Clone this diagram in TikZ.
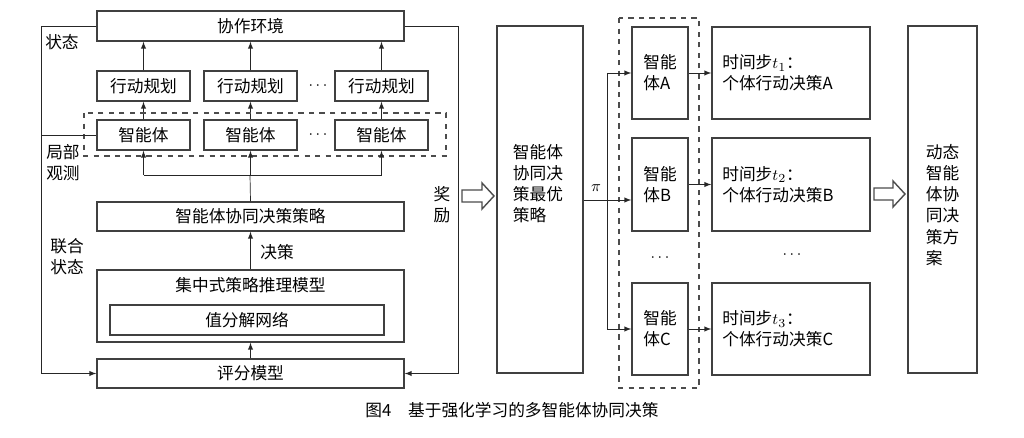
\documentclass[tikz,border=0pt]{standalone}
\usepackage{fontspec}
\setmainfont{Liberation Serif}
\newfontfamily\cjk{Noto Sans CJK SC}
\usetikzlibrary{positioning}
\tikzset{
  box/.style={draw=black!75,thick,inner sep=0pt,font=\cjk\fontsize{9.5}{12}\selectfont},
  lbl/.style={font=\cjk\fontsize{9.5}{12}\selectfont,align=left,inner sep=0pt},
  arr/.style={-latex,black!85},
  ln/.style={black!85},
  dsh/.style={draw=black!70,dashed,thick}
}
\newcommand{\bx}[5]{\node[box,minimum width=#3*0.02cm,minimum height=#4*0.02cm] (#1) at (#2) {#5};}
\begin{document}
\begin{tikzpicture}[x=0.02cm,y=-0.02cm]
\useasboundingbox (0,0) rectangle (1024,438);
% left part
\bx{env}{250.5,26}{307}{30}{协作环境}
\foreach \n/\x in {1/143.5,2/250.5,3/381.5}{
  \bx{plan\n}{\x,86}{93}{30}{行动规划}
  \bx{ag\n}{\x,135}{93}{30}{智能体}
  \draw[arr] (ag\n) -- (plan\n);
  \draw[arr] (plan\n) -- (plan\n|-env.south);
}
\node[lbl] (dp) at (318,86) {$\cdots$};
\node[lbl] (da) at (318,135) {$\cdots$};
\draw[dsh] (84,113) rectangle (446,156);
\bx{strat}{250.5,216.5}{307}{29}{智能体协同决策策略}
\node[box,minimum width=307*0.02cm,minimum height=72*0.02cm] (cent) at (250.5,306) {};
\node[lbl] (centt) at (250.5,285) {集中式策略推理模型};
\bx{vdn}{247,320}{274}{30}{值分解网络}
\bx{score}{250.5,373.5}{307}{29}{评分模型}
\coordinate (br) at (250,175);
\draw[ln] (strat.north) -- (br);
\draw[ln] (ag1|-br) -- (ag3|-br);
\foreach \n in {1,2,3}{\draw[arr] (ag\n|-br) -- (ag\n);}
\draw[arr] (cent.north) -- (strat);
\node[lbl] (jc) at (277,252) {决策};
\draw[arr] (score) -- (cent);
% feedback loops
\draw[arr] (env.west) -- (41,26) -- (41,373.5) -- (score.west);
\draw[ln] (41,135) -- (ag1.west);
\draw[arr] (env.east) -- (458,26) -- (458,373.5) -- (score.east);
\node[lbl] (zt) at (62,42) {状态};
\node[lbl] (jb) at (63,163) {局部\\观测};
\node[lbl] (lh) at (67,257) {联合\\状态};
\node[lbl] (jl) at (442,205) {奖\\励};
% hollow arrows
\draw[thick,black!70] (462,190)--(482,190)--(482,183)--(494,196)--(482,209)--(482,202)--(462,202)--cycle;
\draw[thick,black!70] (874,188)--(893,188)--(893,181)--(905,194)--(893,207)--(893,200)--(874,200)--cycle;
% right part
\node[box,minimum width=86*0.02cm,minimum height=347*0.02cm] (opt) at (540,199.5) {};
\node[lbl] (optt) at (538,184) {智能体\\协同决\\策最优\\策略};
\draw[dsh] (619,18) rectangle (699,388);
\foreach \n/\y/\h/\L/\t in {A/73/92/A/1,B/184.5/93/B/2,C/329/92/C/3}{
  \node[box,minimum width=56*0.02cm,minimum height=\h*0.02cm] (ag\n) at (660,\y) {};
  \node[lbl] at (660,\y) {智能\\体\L};
  \node[box,minimum width=158*0.02cm,minimum height=\h*0.02cm] (ts\n) at (791,\y) {};
  \node[lbl,anchor=west] at (722,\y) {时间步$t_{\t}$：\\个体行动决策\L};
  \draw[arr] (ag\n) -- (ts\n);
}
\coordinate (pi) at (607,200);
\draw[ln] (opt.east|-pi) -- (pi);
\node[lbl] (pil) at (596,188) {$\pi$};
\draw[ln] (607,73) -- (607,329);
\draw[arr] (607,73) -- (agA);
\draw[arr] (607,200) -- (agB.west|-pi);
\draw[arr] (607,329) -- (agC);
\node[lbl] (d1) at (660,258) {$\cdots$};
\node[lbl] (d2) at (792,255) {$\cdots$};
\node[box,minimum width=69*0.02cm,minimum height=347*0.02cm] (plan) at (942.5,199.5) {};
\node[lbl] (plant) at (942.5,205) {动态\\智能\\体协\\同决\\策方\\案};
\node[lbl] (cap) at (512,410) {图4\quad 基于强化学习的多智能体协同决策};
\end{tikzpicture}
\end{document}
